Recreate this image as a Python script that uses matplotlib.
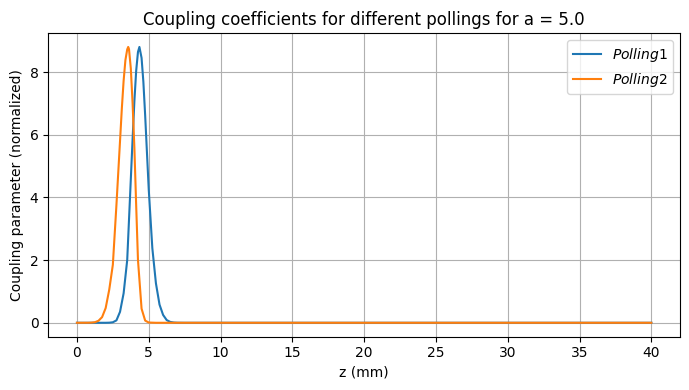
import matplotlib
matplotlib.use('Agg')
import matplotlib.pyplot as plt

# values
z_polling1 = [0.0, 2.0, 2.25, 2.5, 2.75, 3.0, 3.25, 3.5, 3.75, 3.875, 4.0, 4.125, 4.25, 4.35, 4.5,
              4.625, 4.75, 4.875, 5.0, 5.25, 5.5, 5.75, 6.0, 6.25, 6.5, 6.75, 7.0, 7.5, 40.0]
c_polling1 = [0.0, 0.0, 0.003, 0.016, 0.077, 0.35, 0.94, 2.0, 4.57, 5.86, 7.07, 8.04, 8.64, 8.8, 8.45,
              7.69, 6.62, 5.43, 4.25, 2.38, 1.26, 0.58, 0.25, 0.086, 0.027, 0.008, 0.002, 0.0, 0.0]

z_polling2 = [0.0, 0.75, 1.0, 1.25, 1.5, 1.75, 2.0, 2.25, 2.5, 2.75, 3.0, 3.125, 3.25, 3.375, 3.5,
              3.57, 3.625, 3.75, 3.875, 4.0, 4.125, 4.25, 4.5, 4.75, 5.0, 5.5, 40.0]
c_polling2 = [0.0, 0.001, 0.005, 0.018, 0.064, 0.18, 0.47, 1.06, 1.85, 3.76, 5.8, 6.83, 7.72, 8.38, 8.72,
              8.8, 8.73, 8.12, 7.0, 5.58, 3.74, 2.0, 0.45, 0.07, 0.008, 0.0, 0.0]

fig, ax = plt.subplots(figsize=(6.89, 3.9), dpi=100)
ax.plot(z_polling1, c_polling1, label='$Polling 1$')
ax.plot(z_polling2, c_polling2, label='$Polling 2$')

ax.set_title('Coupling coefficients for different pollings for a = 5.0')
ax.set_xlabel('z (mm)')
ax.set_ylabel('Coupling parameter (normalized)')
ax.legend()
ax.grid(True)

fig.subplots_adjust(left=0.07, right=0.987, bottom=0.137, top=0.915)
fig.savefig('out.png', dpi=100)
plt.close(fig)
